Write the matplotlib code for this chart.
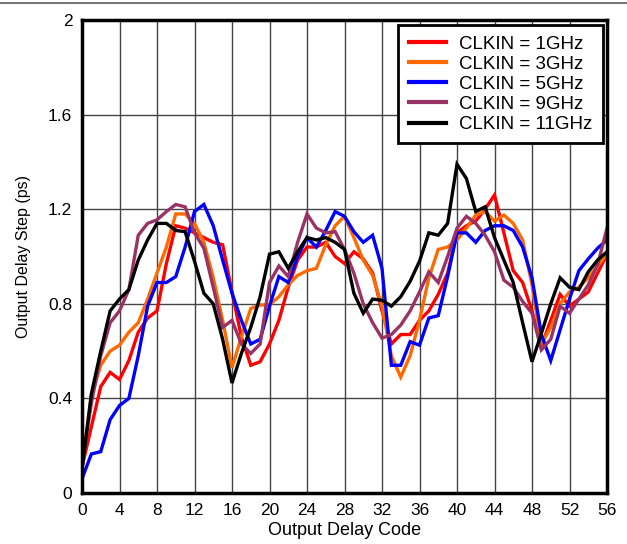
import numpy as np
import matplotlib
matplotlib.use("Agg")
import matplotlib.pyplot as plt
from matplotlib.lines import Line2D

plt.rcParams["font.family"] = ["Liberation Sans", "DejaVu Sans"]

codes = np.arange(0, 57)

clk_1ghz = [0.11, 0.28, 0.45, 0.51, 0.48, 0.56, 0.68, 0.74, 0.77, 0.97,
            1.13, 1.12, 1.10, 1.08, 1.06, 1.05, 0.85, 0.66, 0.54, 0.555,
            0.63, 0.73, 0.87, 0.985, 1.04, 1.04, 1.06, 1.00, 0.97, 1.02,
            0.99, 0.93, 0.77, 0.63, 0.67, 0.67, 0.73, 0.77, 0.84, 0.93,
            1.10, 1.13, 1.15, 1.20, 1.26, 1.10, 0.94, 0.89, 0.77, 0.62,
            0.73, 0.84, 0.79, 0.82, 0.85, 0.93, 1.01]
clk_3ghz = [0.11, 0.41, 0.54, 0.60, 0.625, 0.68, 0.72, 0.82, 0.93, 1.04,
            1.18, 1.18, 1.14, 1.06, 0.91, 0.73, 0.53, 0.66, 0.78, 0.795,
            0.795, 0.83, 0.88, 0.92, 0.94, 0.95, 1.05, 1.13, 1.17, 1.08,
            0.985, 0.92, 0.79, 0.58, 0.49, 0.58, 0.73, 0.91, 1.03, 1.04,
            1.07, 1.12, 1.175, 1.19, 1.15, 1.175, 1.14, 1.07, 0.88, 0.63,
            0.70, 0.80, 0.85, 0.87, 0.91, 0.96, 1.01]
clk_5ghz = [0.06, 0.165, 0.175, 0.31, 0.37, 0.40, 0.58, 0.79, 0.89, 0.89,
            0.915, 1.04, 1.19, 1.22, 1.13, 0.985, 0.845, 0.73, 0.63, 0.65,
            0.79, 0.915, 0.89, 1.00, 1.08, 1.04, 1.11, 1.19, 1.17, 1.105,
            1.06, 1.09, 0.95, 0.54, 0.54, 0.64, 0.625, 0.74, 0.75, 0.915,
            1.10, 1.10, 1.06, 1.11, 1.13, 1.13, 1.11, 1.04, 0.91, 0.67,
            0.56, 0.69, 0.82, 0.94, 0.99, 1.035, 1.07]
clk_9ghz = [0.12, 0.38, 0.58, 0.72, 0.77, 0.86, 1.09, 1.14, 1.155, 1.19,
            1.22, 1.21, 1.10, 1.035, 0.87, 0.70, 0.73, 0.63, 0.59, 0.63,
            0.89, 0.96, 0.915, 1.06, 1.18, 1.12, 1.10, 1.105, 1.03, 0.93,
            0.80, 0.72, 0.655, 0.67, 0.71, 0.77, 0.85, 0.935, 0.89, 1.00,
            1.12, 1.17, 1.14, 1.09, 1.02, 0.90, 0.87, 0.81, 0.76, 0.605,
            0.65, 0.79, 0.76, 0.82, 0.88, 0.965, 1.12]
clk_11ghz = [0.10, 0.42, 0.60, 0.77, 0.82, 0.86, 0.985, 1.07, 1.14, 1.14,
             1.11, 1.105, 0.98, 0.845, 0.80, 0.65, 0.465, 0.59, 0.70, 0.83,
             1.01, 1.02, 0.95, 1.02, 1.08, 1.07, 1.08, 1.06, 1.03, 0.845,
             0.76, 0.82, 0.815, 0.79, 0.83, 0.895, 0.98, 1.10, 1.09, 1.14,
             1.39, 1.33, 1.19, 1.21, 1.08, 0.985, 0.89, 0.72, 0.555, 0.675,
             0.80, 0.91, 0.87, 0.86, 0.935, 0.985, 1.02]

series = [
    ("CLKIN = 1GHz", clk_1ghz, "#ff0000"),
    ("CLKIN = 3GHz", clk_3ghz, "#ff6a00"),
    ("CLKIN = 5GHz", clk_5ghz, "#0000ff"),
    ("CLKIN = 9GHz", clk_9ghz, "#993366"),
    ("CLKIN = 11GHz", clk_11ghz, "#000000"),
]

fig = plt.figure(figsize=(6.27, 5.44), dpi=100)
ax = fig.add_axes([82 / 627, 1 - 493 / 544, 525 / 627, 473 / 544])

for label, vals, color in series:
    ax.plot(codes, vals, color=color, lw=2.4, label=label, solid_joinstyle="miter")

ax.set_xlim(0, 56)
ax.set_ylim(0, 2)
ax.set_xticks(np.arange(0, 57, 4))
ax.set_yticks([0, 0.4, 0.8, 1.2, 1.6, 2])
ax.set_yticklabels(["0", "0.4", "0.8", "1.2", "1.6", "2"])
ax.tick_params(length=0, labelsize=12.5, pad=7)
ax.grid(True, color="#444444", lw=1)
ax.set_axisbelow(True)
for sp in ax.spines.values():
    sp.set_linewidth(2.5)

ax.set_xlabel("Output Delay Code", fontsize=13, labelpad=3)
ax.set_ylabel("Output Delay Step (ps)", fontsize=11.5, labelpad=12)

leg = ax.legend(loc="upper right", fontsize=13.5, handlelength=2.0,
                borderpad=0.55, labelspacing=0.16, handletextpad=0.7,
                borderaxespad=0, fancybox=False, framealpha=1,
                edgecolor="black", bbox_to_anchor=(0.992, 0.989))
leg.get_frame().set_linewidth(2)
for h in leg.get_lines():
    h.set_linewidth(3)

# thin gray rule along the top of the figure
fig.add_artist(Line2D([0, 1], [1 - 3 / 544, 1 - 3 / 544], color="#777777", lw=1.5))

fig.savefig("out.png", dpi=100)
